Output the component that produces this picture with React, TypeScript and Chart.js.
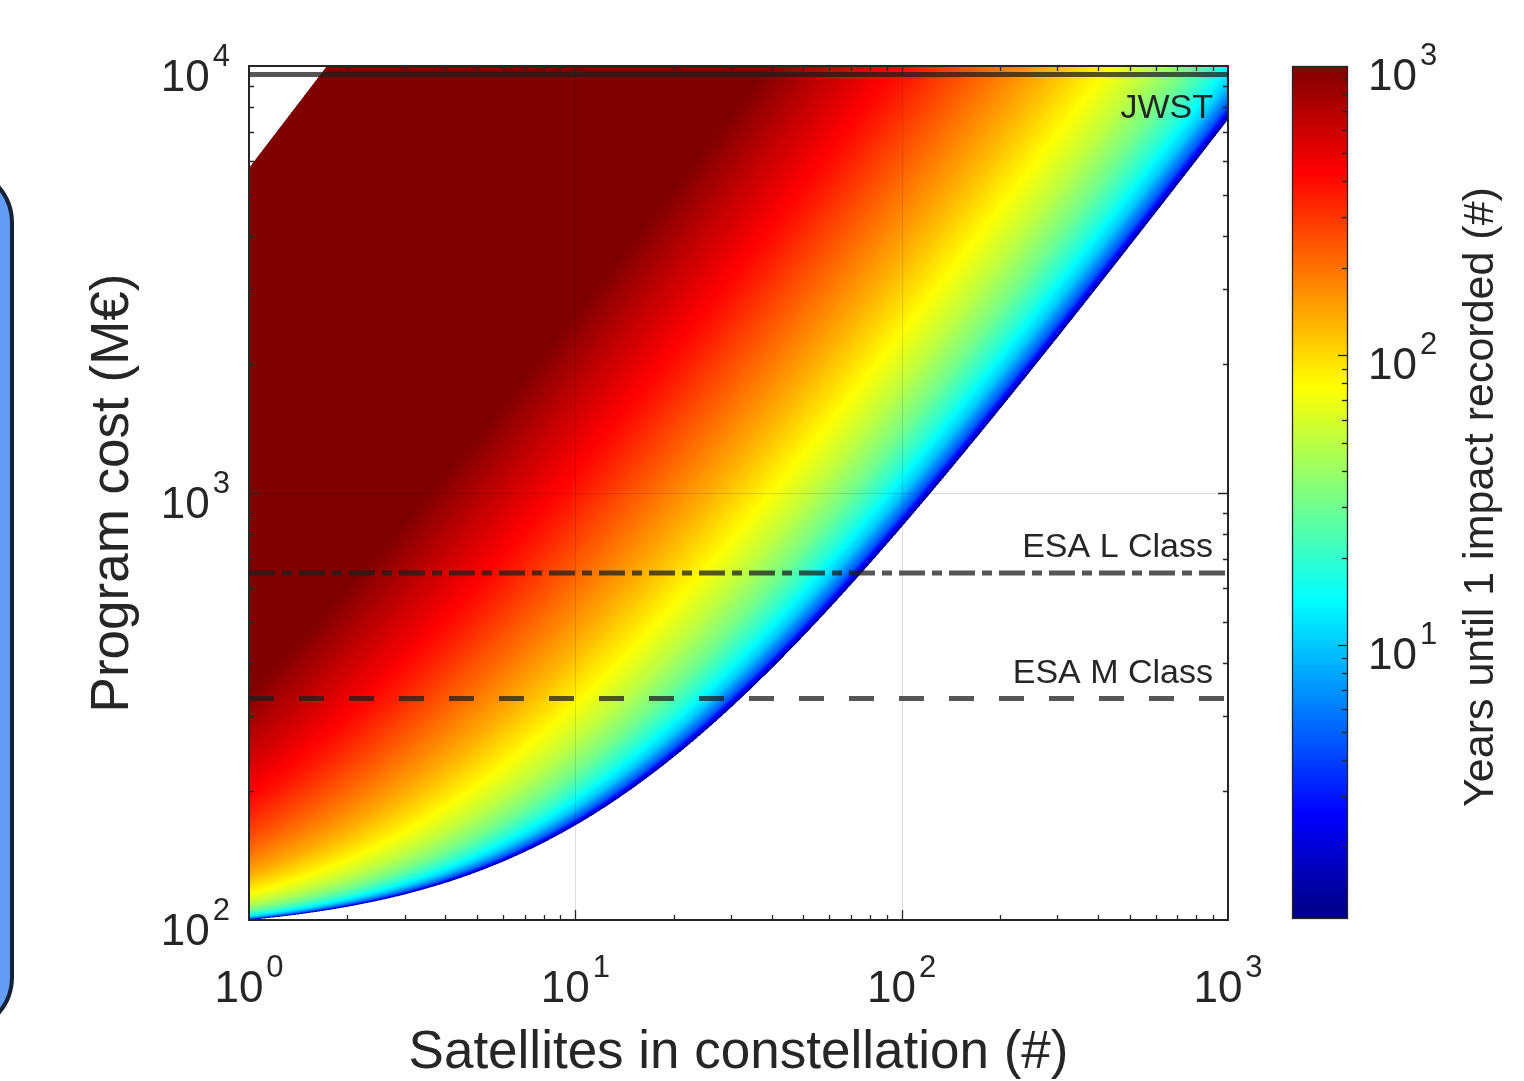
import React, { useEffect, useRef } from "react";
import { Chart, registerables } from "chart.js";

Chart.register(...registerables);

// ---- axes ----
const SATELLITES_RANGE = [1, 1000];
const COST_RANGE = [100, 10000];
const X_TICK_EXPONENTS = [0, 1, 2, 3];
const Y_TICK_EXPONENTS = [2, 3, 4];
const CB_TICK_EXPONENTS = [1, 2, 3];
const CB_RANGE = [1.12, 1000];

// ---- reference programmes (M€) ----
const REF_LABELS = ["JWST", "ESA L Class", "ESA M Class"];
const REF_COSTS = [9550, 650, 330];

// ---- cost model (M€) ----
const FIXED_COST = 92.6;
const MIN_COST_PER_SAT = 7.4;
const MAX_COST_PER_SAT = 5770;

// ---- years until 1 impact vs budget per satellite (read along iso-colours) ----
const BUDGET_PER_SAT = [7.4, 7.45, 7.6, 8, 9, 10.5, 13, 17, 24, 35, 55, 90, 150, 255];
const YEARS_TO_IMPACT = [0.5, 1.1, 2.1, 4.5, 10, 18, 31, 51, 84, 134, 220, 370, 600, 1000];

const FONT = '"Liberation Sans", Arial, Helvetica, sans-serif';
const TEXT = "#262626";

const LOG_B = BUDGET_PER_SAT.map((v) => Math.log10(v));
const LOG_Y = YEARS_TO_IMPACT.map((v) => Math.log10(v));
const LCB0 = Math.log10(CB_RANGE[0]);
const LCB1 = Math.log10(CB_RANGE[1]);

function logYears(b: number): number {
  const lb = Math.log10(b);
  const n = LOG_B.length;
  if (lb <= LOG_B[0]) return LOG_Y[0];
  if (lb >= LOG_B[n - 1]) return LOG_Y[n - 1] + (lb - LOG_B[n - 1]);
  let i = 0;
  while (i < n - 2 && lb > LOG_B[i + 1]) i++;
  const t = (lb - LOG_B[i]) / (LOG_B[i + 1] - LOG_B[i]);
  return LOG_Y[i] + t * (LOG_Y[i + 1] - LOG_Y[i]);
}

function jet(f: number): [number, number, number] {
  const c = (v: number) => Math.max(0, Math.min(1, v));
  return [c(1.5 - Math.abs(4 * f - 3)), c(1.5 - Math.abs(4 * f - 2)), c(1.5 - Math.abs(4 * f - 1))];
}

function fracOfLogYears(ly: number) {
  return Math.max(0, Math.min(1, (ly - LCB0) / (LCB1 - LCB0)));
}

function drawPow(ctx: CanvasRenderingContext2D, exp: number, x: number, baseY: number, align: string) {
  ctx.font = `44px ${FONT}`;
  const w1 = ctx.measureText("10").width;
  ctx.font = `31px ${FONT}`;
  const w2 = ctx.measureText(String(exp)).width;
  const gap = 3;
  const total = w1 + gap + w2;
  const sx = align === "left" ? x : align === "center" ? x - total / 2 : x - total;
  ctx.textAlign = "left";
  ctx.textBaseline = "alphabetic";
  ctx.fillStyle = TEXT;
  ctx.font = `44px ${FONT}`;
  ctx.fillText("10", sx, baseY);
  ctx.font = `31px ${FONT}`;
  ctx.fillText(String(exp), sx + w1 + gap, baseY - 25);
}

function logTickValues(min: number, max: number) {
  const out: { v: number; major: boolean }[] = [];
  for (let d = Math.floor(Math.log10(min)); d <= Math.ceil(Math.log10(max)); d++) {
    for (let k = 1; k <= 9; k++) {
      const v = k * Math.pow(10, d);
      if (v > min * 1.0001 && v < max * 0.9999) out.push({ v, major: k === 1 });
    }
  }
  return out;
}

const heatmapPlugin = {
  id: "heatmap",
  beforeDatasetsDraw(chart: any) {
    const ctx: CanvasRenderingContext2D = chart.ctx;
    const { left, top, right, bottom } = chart.chartArea;
    const xs = chart.scales.x;
    const ys = chart.scales.y;
    const W = Math.round(right - left);
    const H = Math.round(bottom - top);
    const off = document.createElement("canvas");
    off.width = W;
    off.height = H;
    const octx = off.getContext("2d")!;
    const img = octx.createImageData(W, H);
    const colN = new Float64Array(W * 2);
    const rowC = new Float64Array(H * 2);
    for (let i = 0; i < W * 2; i++) colN[i] = xs.getValueForPixel(left + (i + 0.5) / 2);
    for (let j = 0; j < H * 2; j++) rowC[j] = ys.getValueForPixel(top + (j + 0.5) / 2);
    const d = img.data;
    for (let j = 0; j < H; j++) {
      for (let i = 0; i < W; i++) {
        let r = 0, g = 0, b = 0;
        for (let sj = 0; sj < 2; sj++) {
          const C = rowC[j * 2 + sj];
          for (let si = 0; si < 2; si++) {
            const N = colN[i * 2 + si];
            if (C < FIXED_COST + MIN_COST_PER_SAT * N || C > MAX_COST_PER_SAT * N) {
              r += 255; g += 255; b += 255;
            } else {
              const bud = (C - FIXED_COST) / N;
              const col = jet(fracOfLogYears(logYears(bud)));
              r += col[0] * 255; g += col[1] * 255; b += col[2] * 255;
            }
          }
        }
        const p = (j * W + i) * 4;
        d[p] = r / 4; d[p + 1] = g / 4; d[p + 2] = b / 4; d[p + 3] = 255;
      }
    }
    octx.putImageData(img, 0, 0);
    ctx.save();
    ctx.drawImage(off, left, top);

    // grid (major decades only)
    ctx.strokeStyle = "rgba(0,0,0,0.13)";
    ctx.lineWidth = 1;
    for (const e of X_TICK_EXPONENTS) {
      const v = Math.pow(10, e);
      if (v <= SATELLITES_RANGE[0] || v >= SATELLITES_RANGE[1]) continue;
      const px = Math.round(xs.getPixelForValue(v)) + 0.5;
      ctx.beginPath(); ctx.moveTo(px, top); ctx.lineTo(px, bottom); ctx.stroke();
    }
    for (const e of Y_TICK_EXPONENTS) {
      const v = Math.pow(10, e);
      if (v <= COST_RANGE[0] || v >= COST_RANGE[1]) continue;
      const py = Math.round(ys.getPixelForValue(v)) + 0.5;
      ctx.beginPath(); ctx.moveTo(left, py); ctx.lineTo(right, py); ctx.stroke();
    }

    // ticks (inward, all four sides)
    ctx.strokeStyle = TEXT;
    ctx.lineWidth = 1.3;
    for (const t of logTickValues(SATELLITES_RANGE[0], SATELLITES_RANGE[1])) {
      const px = Math.round(xs.getPixelForValue(t.v)) + 0.5;
      const len = t.major ? 10 : 5;
      ctx.beginPath();
      ctx.moveTo(px, bottom); ctx.lineTo(px, bottom - len);
      ctx.moveTo(px, top); ctx.lineTo(px, top + len);
      ctx.stroke();
    }
    for (const t of logTickValues(COST_RANGE[0], COST_RANGE[1])) {
      const py = Math.round(ys.getPixelForValue(t.v)) + 0.5;
      const len = t.major ? 10 : 5;
      ctx.beginPath();
      ctx.moveTo(left, py); ctx.lineTo(left + len, py);
      ctx.moveTo(right, py); ctx.lineTo(right - len, py);
      ctx.stroke();
    }
    ctx.lineWidth = 2;
    ctx.strokeRect(left, top, right - left, bottom - top);
    ctx.restore();
  },
  afterDraw(chart: any) {
    const ctx: CanvasRenderingContext2D = chart.ctx;
    const { left, top, right, bottom } = chart.chartArea;
    const xs = chart.scales.x;
    const ys = chart.scales.y;
    const cb = chart.scales.cb;
    ctx.save();

    // tick labels
    for (const e of X_TICK_EXPONENTS) {
      drawPow(ctx, e, xs.getPixelForValue(Math.pow(10, e)), bottom + 82, "center");
    }
    for (const e of Y_TICK_EXPONENTS) {
      drawPow(ctx, e, left - 19, ys.getPixelForValue(Math.pow(10, e)) + 25, "right");
    }

    // reference labels
    ctx.fillStyle = TEXT;
    ctx.font = `34px ${FONT}`;
    ctx.textAlign = "right";
    ctx.textBaseline = "alphabetic";
    REF_LABELS.forEach((lab, i) => {
      const py = ys.getPixelForValue(REF_COSTS[i]);
      const y = i === 0 ? py + 43 : py - 16;
      ctx.fillText(lab, right - 15, y);
    });

    // axis titles
    ctx.font = `53px ${FONT}`;
    ctx.textAlign = "center";
    ctx.fillText("Satellites in constellation (#)", (left + right) / 2, bottom + 148);
    ctx.save();
    ctx.translate(128, (top + bottom) / 2);
    ctx.rotate(-Math.PI / 2);
    ctx.fillText("Program cost (M€)", 0, 0);
    ctx.restore();

    // colour bar
    const cbL = 1292, cbR = 1347;
    const cbTop = cb.getPixelForValue(CB_RANGE[1]);
    const cbBot = cb.getPixelForValue(CB_RANGE[0]) - 2;
    for (let y = Math.floor(cbTop); y < Math.ceil(cbBot); y++) {
      const v = cb.getValueForPixel(y + 0.5);
      const col = jet(fracOfLogYears(Math.log10(v)));
      ctx.fillStyle = `rgb(${Math.round(col[0] * 255)},${Math.round(col[1] * 255)},${Math.round(col[2] * 255)})`;
      ctx.fillRect(cbL, y, cbR - cbL, 1);
    }
    ctx.strokeStyle = TEXT;
    ctx.lineWidth = 1.3;
    for (const t of logTickValues(CB_RANGE[0], CB_RANGE[1])) {
      const py = Math.round(cb.getPixelForValue(t.v)) + 0.5;
      const len = t.major ? 9 : 5;
      ctx.beginPath(); ctx.moveTo(cbR, py); ctx.lineTo(cbR - len, py); ctx.stroke();
    }
    ctx.strokeRect(cbL + 0.5, Math.round(cbTop) + 0.5, cbR - cbL, Math.round(cbBot - cbTop));
    for (const e of CB_TICK_EXPONENTS) {
      drawPow(ctx, e, 1368, cb.getPixelForValue(Math.pow(10, e)) + 24, "left");
    }
    ctx.fillStyle = TEXT;
    ctx.font = `43px ${FONT}`;
    ctx.textAlign = "center";
    ctx.save();
    ctx.translate(1493, 497);
    ctx.rotate(-Math.PI / 2);
    ctx.fillText("Years until 1 impact recorded (#)", 0, 0);
    ctx.restore();

    // slide box fragment at the left edge
    ctx.beginPath();
    (ctx as any).roundRect(-100, 168, 112, 864, 55);
    ctx.fillStyle = "#649bf5";
    ctx.fill();
    ctx.lineWidth = 4;
    ctx.strokeStyle = "#142337";
    ctx.stroke();

    ctx.restore();
  },
};

export default function App() {
  const ref = useRef<HTMLCanvasElement>(null);
  useEffect(() => {
    document.body.style.margin = "0";
    const canvas = ref.current!;
    const dashes = [[], [26, 7, 10, 7], [25, 25]];
    const chart = new Chart(canvas, {
      type: "line",
      data: {
        datasets: REF_LABELS.map((lab, i) => ({
          label: lab,
          data: [
            { x: SATELLITES_RANGE[0], y: REF_COSTS[i] },
            { x: SATELLITES_RANGE[1], y: REF_COSTS[i] },
          ],
          borderColor: "rgba(30,30,30,0.75)",
          borderWidth: 5,
          borderDash: dashes[i],
          borderCapStyle: "butt",
          pointRadius: 0,
          fill: false,
          tension: 0,
        })),
      },
      options: {
        responsive: false,
        animation: false,
        events: [],
        layout: { padding: { left: 249, right: 296, top: 66, bottom: 161 } },
        plugins: { legend: { display: false }, tooltip: { enabled: false }, title: { display: false } },
        scales: {
          x: {
            type: "logarithmic",
            min: SATELLITES_RANGE[0],
            max: SATELLITES_RANGE[1],
            ticks: { display: false },
            grid: { display: false, drawTicks: false },
            border: { display: false },
            afterFit: (s: any) => { s.height = 0; },
          },
          y: {
            type: "logarithmic",
            min: COST_RANGE[0],
            max: COST_RANGE[1],
            ticks: { display: false },
            grid: { display: false, drawTicks: false },
            border: { display: false },
            afterFit: (s: any) => { s.width = 0; },
          },
          cb: {
            type: "logarithmic",
            position: "right",
            display: false,
            min: CB_RANGE[0],
            max: CB_RANGE[1],
          },
        },
      } as any,
      plugins: [heatmapPlugin],
    });
    return () => chart.destroy();
  }, []);
  return (
    <div style={{ width: 1524, height: 1081, position: "relative", overflow: "hidden", background: "#fff" }}>
      <canvas ref={ref} width={1524} height={1081} style={{ display: "block" }} />
    </div>
  );
}
